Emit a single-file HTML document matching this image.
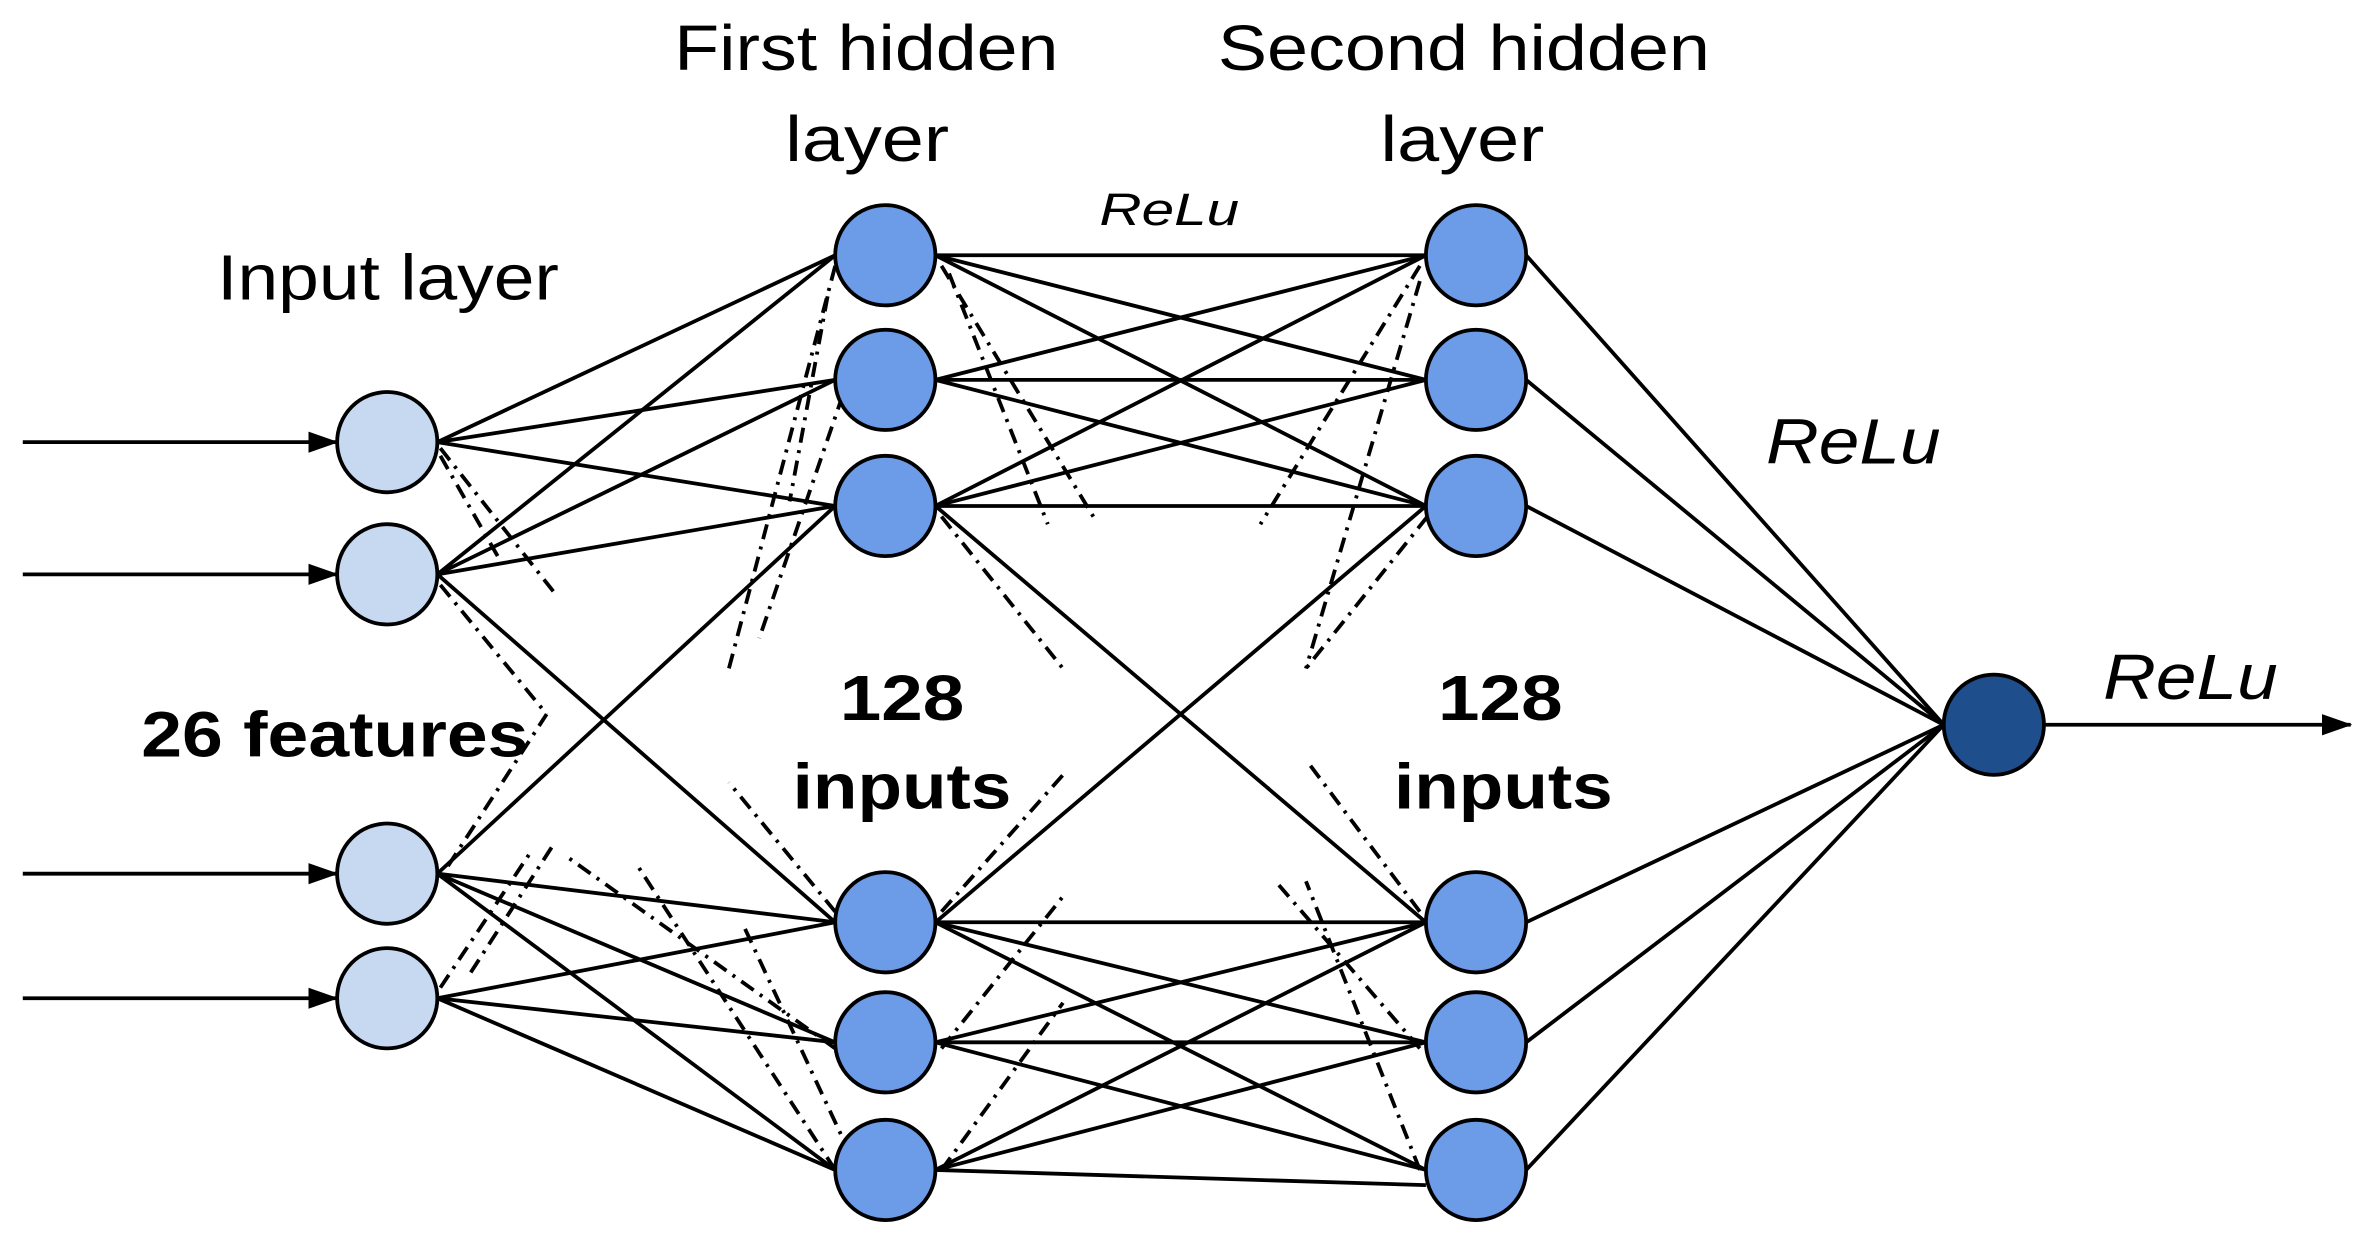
<!DOCTYPE html>
<html><head><meta charset="utf-8"><style>
html,body{margin:0;padding:0;background:#fff;}
svg{display:block;}
text{font-family:"Liberation Sans",Arial,sans-serif;fill:#000;}
</style></head><body>
<svg width="2375" height="1252" viewBox="0 0 1564 824" preserveAspectRatio="none" xmlns="http://www.w3.org/2000/svg">
<defs>
<marker id="ah" markerWidth="20" markerHeight="14" refX="19" refY="7" orient="auto" markerUnits="userSpaceOnUse"><path d="M0,0 L20,7 L0,14 z" fill="#000"/></marker>
</defs>
<g stroke="#000" stroke-width="2.5">
<line x1="15" y1="291" x2="222" y2="291" marker-end="url(#ah)"/>
<line x1="15" y1="378" x2="222" y2="378" marker-end="url(#ah)"/>
<line x1="15" y1="575" x2="222" y2="575" marker-end="url(#ah)"/>
<line x1="15" y1="657" x2="222" y2="657" marker-end="url(#ah)"/>
<line x1="1347" y1="477" x2="1548" y2="477" marker-end="url(#ah)"/>
<g>
<line x1="288" y1="291" x2="550" y2="168"/><line x1="288" y1="291" x2="550" y2="250"/><line x1="288" y1="291" x2="550" y2="333"/>
<line x1="288" y1="378" x2="550" y2="168"/><line x1="288" y1="378" x2="550" y2="250"/><line x1="288" y1="378" x2="550" y2="333"/><line x1="288" y1="378" x2="550" y2="607"/>
<line x1="288" y1="575" x2="550" y2="333"/><line x1="288" y1="575" x2="550" y2="607"/><line x1="288" y1="575" x2="550" y2="686"/><line x1="288" y1="575" x2="550" y2="770"/>
<line x1="288" y1="657" x2="550" y2="607"/><line x1="288" y1="657" x2="550" y2="686"/><line x1="288" y1="657" x2="550" y2="770"/>
</g>
<g>
<line x1="616" y1="168" x2="939" y2="168"/><line x1="616" y1="168" x2="939" y2="250"/><line x1="616" y1="168" x2="939" y2="333"/>
<line x1="616" y1="250" x2="939" y2="168"/><line x1="616" y1="250" x2="939" y2="250"/><line x1="616" y1="250" x2="939" y2="333"/>
<line x1="616" y1="333" x2="939" y2="168"/><line x1="616" y1="333" x2="939" y2="250"/><line x1="616" y1="333" x2="939" y2="333"/>
<line x1="616" y1="333" x2="939" y2="607"/><line x1="616" y1="607" x2="939" y2="333"/>
<line x1="616" y1="607" x2="939" y2="607"/><line x1="616" y1="607" x2="939" y2="686"/><line x1="616" y1="607" x2="939" y2="770"/>
<line x1="616" y1="686" x2="939" y2="607"/><line x1="616" y1="686" x2="939" y2="686"/><line x1="616" y1="686" x2="939" y2="770"/>
<line x1="616" y1="770" x2="939" y2="607"/><line x1="616" y1="770" x2="939" y2="686"/><line x1="616" y1="770" x2="939" y2="780"/>
</g>
<line x1="1005" y1="168" x2="1280" y2="477"/><line x1="1005" y1="250" x2="1280" y2="477"/><line x1="1005" y1="333" x2="1280" y2="477"/>
<line x1="1005" y1="607" x2="1280" y2="477"/><line x1="1005" y1="686" x2="1280" y2="477"/><line x1="1005" y1="770" x2="1280" y2="477"/>
</g>
<g stroke="#000" stroke-width="2.5" stroke-dasharray="10,5,2,5" fill="none">
<line x1="290" y1="295" x2="365" y2="390"/><line x1="290" y1="300" x2="330" y2="370"/>
<line x1="290" y1="385" x2="360" y2="470"/><line x1="295" y1="570" x2="360" y2="470"/>
<line x1="290" y1="650" x2="350" y2="560"/><line x1="310" y1="640" x2="365" y2="555"/>
<line x1="550" y1="175" x2="480" y2="440"/><line x1="555" y1="260" x2="500" y2="420"/><line x1="545" y1="195" x2="520" y2="330"/>
<line x1="550" y1="600" x2="480" y2="515"/><line x1="550" y1="690" x2="375" y2="565"/><line x1="550" y1="770" x2="420" y2="570"/>
<line x1="560" y1="760" x2="490" y2="610"/>
<line x1="620" y1="175" x2="720" y2="340"/><line x1="620" y1="340" x2="700" y2="440"/><line x1="625" y1="180" x2="690" y2="345"/>
<line x1="620" y1="600" x2="700" y2="510"/><line x1="620" y1="690" x2="700" y2="590"/><line x1="620" y1="770" x2="700" y2="660"/>
<line x1="935" y1="175" x2="830" y2="345"/><line x1="935" y1="185" x2="860" y2="440"/><line x1="940" y1="340" x2="860" y2="440"/>
<line x1="935" y1="600" x2="860" y2="500"/><line x1="935" y1="690" x2="840" y2="580"/><line x1="935" y1="770" x2="860" y2="580"/>
</g>
<g stroke="#000" stroke-width="2.5">
<g fill="#c6d9f1">
<circle cx="255" cy="291" r="33"/><circle cx="255" cy="378" r="33"/><circle cx="255" cy="575" r="33"/><circle cx="255" cy="657" r="33"/>
</g>
<g fill="#6c9be8">
<circle cx="583" cy="168" r="33"/><circle cx="583" cy="250" r="33"/><circle cx="583" cy="333" r="33"/>
<circle cx="583" cy="607" r="33"/><circle cx="583" cy="686" r="33"/><circle cx="583" cy="770" r="33"/>
<circle cx="972" cy="168" r="33"/><circle cx="972" cy="250" r="33"/><circle cx="972" cy="333" r="33"/>
<circle cx="972" cy="607" r="33"/><circle cx="972" cy="686" r="33"/><circle cx="972" cy="770" r="33"/>
</g>
<circle cx="1313" cy="477" r="33" fill="#1f4e8c"/>
</g>
<g font-size="42">
<text x="143" y="197" textLength="225" lengthAdjust="spacingAndGlyphs">Input layer</text>
<text x="444" y="46" textLength="253" lengthAdjust="spacingAndGlyphs">First hidden</text>
<text x="517" y="106" textLength="108" lengthAdjust="spacingAndGlyphs">layer</text>
<text x="802" y="46" textLength="324" lengthAdjust="spacingAndGlyphs">Second hidden</text>
<text x="909" y="106" textLength="108" lengthAdjust="spacingAndGlyphs">layer</text>
<text x="724" y="148" font-size="30" font-style="italic" textLength="92" lengthAdjust="spacingAndGlyphs">ReLu</text>
<text x="1163" y="305" font-style="italic" textLength="115" lengthAdjust="spacingAndGlyphs">ReLu</text>
<text x="1385" y="460" font-style="italic" textLength="115" lengthAdjust="spacingAndGlyphs">ReLu</text>
<g font-weight="bold">
<text x="93" y="498" textLength="255" lengthAdjust="spacingAndGlyphs">26 features</text>
<text x="553" y="474" textLength="82" lengthAdjust="spacingAndGlyphs">128</text>
<text x="522" y="532" textLength="144" lengthAdjust="spacingAndGlyphs">inputs</text>
<text x="947" y="474" textLength="82" lengthAdjust="spacingAndGlyphs">128</text>
<text x="918" y="532" textLength="144" lengthAdjust="spacingAndGlyphs">inputs</text>
</g>
</g>
</svg>
</body></html>
